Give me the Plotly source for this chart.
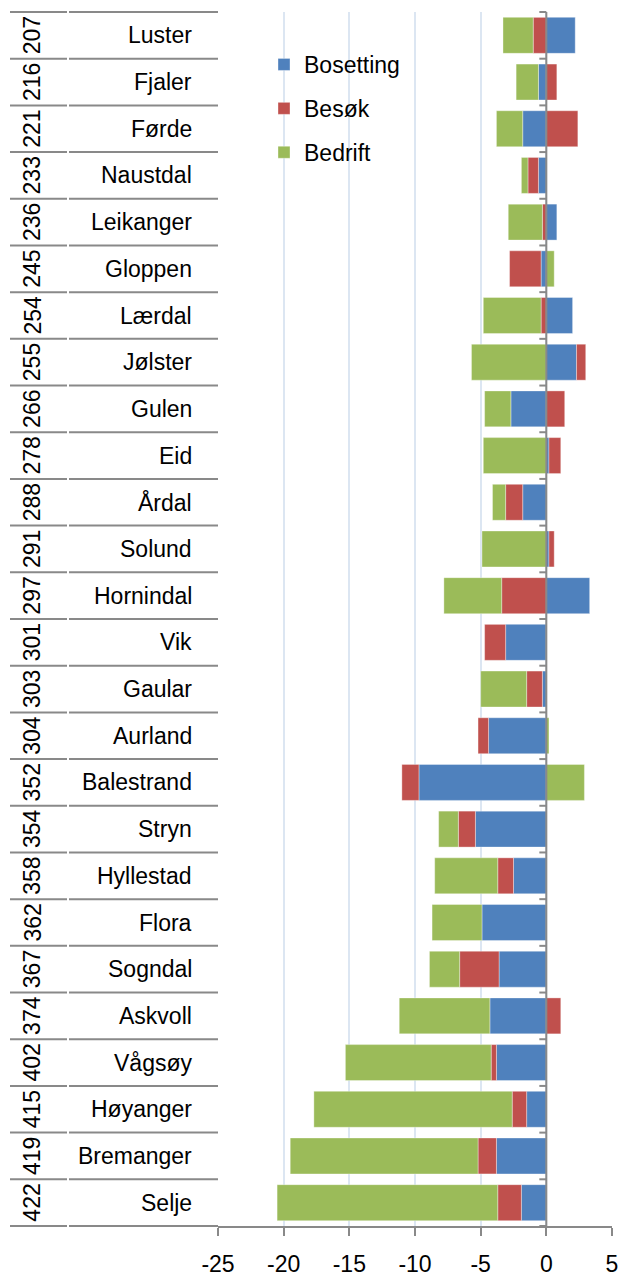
import plotly.graph_objects as go

# Municipalities, top to bottom, with their rank
kommuner = ["Luster", "Fjaler", "Førde", "Naustdal", "Leikanger", "Gloppen", "Lærdal",
            "Jølster", "Gulen", "Eid", "Årdal", "Solund", "Hornindal", "Vik", "Gaular",
            "Aurland", "Balestrand", "Stryn", "Hyllestad", "Flora", "Sogndal", "Askvoll",
            "Vågsøy", "Høyanger", "Bremanger", "Selje"]
rangering = ["207", "216", "221", "233", "236", "245", "254", "255", "266", "278", "288",
             "291", "297", "301", "303", "304", "352", "354", "358", "362", "367", "374",
             "402", "415", "419", "422"]

bosetting = [2.2, -0.6, -1.8, -0.6, 0.8, -0.4, 2.0, 2.3, -2.7, 0.2, -1.8, 0.2, 3.3, -3.1,
             -0.3, -4.4, -9.7, -5.4, -2.5, -4.9, -3.6, -4.3, -3.8, -1.5, -3.8, -1.9]
besok = [-1.0, 0.8, 2.4, -0.8, -0.3, -2.4, -0.4, 0.7, 1.4, 0.9, -1.3, 0.4, -3.4, -1.6,
         -1.2, -0.8, -1.3, -1.3, -1.2, 0.0, -3.0, 1.1, -0.4, -1.1, -1.4, -1.8]
bedrift = [-2.3, -1.7, -2.0, -0.5, -2.6, 0.6, -4.4, -5.7, -2.0, -4.8, -1.0, -4.9, -4.4, 0.0,
           -3.5, 0.2, 2.9, -1.5, -4.8, -3.8, -2.3, -6.9, -11.1, -15.1, -14.3, -16.8]

x_ticks = [-25, -20, -15, -10, -5, 0, 5]

FONT = "Liberation Sans, Arial, sans-serif"
AXIS_GREY = "#898989"
GRID = "#dce6f2"
EDGE = "rgba(255,255,255,0.35)"

series = [("Bosetting", bosetting, "#4f81bd"),
          ("Besøk", besok, "#c0504d"),
          ("Bedrift", bedrift, "#9bbb59")]

fig = go.Figure()
for name, vals, col in series:
    fig.add_trace(go.Bar(
        y=kommuner, x=vals, name=name, orientation="h",
        legendgroup=name,
        marker=dict(color=col, line=dict(color=EDGE, width=1)),
        hoverinfo="x+y+name",
    ))

L, R, T, B = 218, 10, 12, 52
W, H = 622, 1278
pw = W - L - R
n = len(kommuner)


def px_to_paper(px):
    return (px - L) / pw


shapes = []
# Table row separators on the left (two segments: rank column and name column)
for k in range(n + 1):
    yk = 1 - k / n
    for a, b in [(10, 67), (69, L)]:
        shapes.append(dict(type="line", xref="paper", yref="paper",
                           x0=px_to_paper(a), x1=px_to_paper(b), y0=yk, y1=yk,
                           line=dict(color=AXIS_GREY, width=2), layer="above"))
# Category axis at x = 0 with small ticks at the row boundaries
shapes.append(dict(type="line", xref="x", yref="paper", x0=0, x1=0, y0=0, y1=1,
                   line=dict(color=AXIS_GREY, width=2), layer="above"))
for k in range(n + 1):
    yk = 1 - k / n
    shapes.append(dict(type="line", xref="x", yref="paper", xsizemode="pixel", xanchor=0,
                       x0=-7, x1=0, y0=yk, y1=yk,
                       line=dict(color=AXIS_GREY, width=2), layer="above"))

annotations = []
for i, (nm, rk) in enumerate(zip(kommuner, rangering)):
    annotations.append(dict(xref="paper", yref="y", x=px_to_paper(194), y=nm,
                            text=nm, showarrow=False, xanchor="right", yanchor="middle",
                            font=dict(family=FONT, size=23, color="#000")))
    annotations.append(dict(xref="paper", yref="y", x=px_to_paper(32), y=nm,
                            text=rk, showarrow=False, textangle=-90,
                            xanchor="center", yanchor="middle",
                            font=dict(family=FONT, size=23, color="#000")))

fig.update_layout(
    width=W, height=H,
    margin=dict(l=L, r=R, t=T, b=B, pad=0, autoexpand=False),
    paper_bgcolor="white", plot_bgcolor="white",
    barmode="relative", bargap=0.23,
    font=dict(family=FONT, size=23, color="#000"),
    shapes=shapes, annotations=annotations,
    legend=dict(x=px_to_paper(264), y=1 - (43 - T) / (H - T - B),
                xanchor="left", yanchor="top",
                traceorder="grouped", tracegroupgap=11,
                bgcolor="rgba(0,0,0,0)",
                font=dict(family=FONT, size=23, color="#000")),
    xaxis=dict(range=[-25, 5], tickvals=x_ticks, ticktext=[str(v) for v in x_ticks],
               showgrid=True, gridcolor=GRID, gridwidth=2, zeroline=False,
               showline=True, linecolor=AXIS_GREY, linewidth=2,
               ticks="outside", ticklen=8, tickwidth=2, tickcolor=AXIS_GREY,
               tickfont=dict(family=FONT, size=23, color="#000"),
               ticklabelstandoff=8, automargin=False, fixedrange=True),
    yaxis=dict(categoryorder="array", categoryarray=kommuner, autorange="reversed",
               showticklabels=False, showgrid=False, zeroline=False, showline=False,
               ticks="", automargin=False, fixedrange=True),
)

fig.write_html("out.html")
